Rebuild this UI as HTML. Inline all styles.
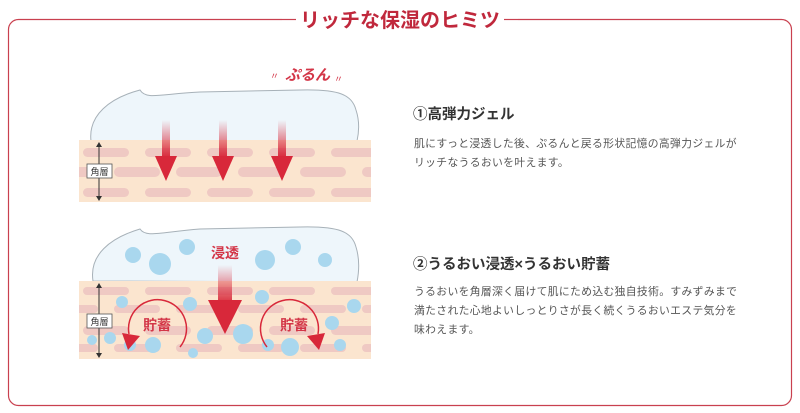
<!DOCTYPE html>
<html><head><meta charset="utf-8">
<style>
html,body{margin:0;padding:0;background:#fff;width:800px;height:413px;overflow:hidden}
svg{display:block}
text{font-family:"Liberation Sans","Noto Sans CJK JP",sans-serif}
</style></head><body>
<svg width="800" height="413" viewBox="0 0 800 413" xmlns="http://www.w3.org/2000/svg">
<defs>
<linearGradient id="ar" x1="0" y1="0" x2="0" y2="1">
<stop offset="0" stop-color="#d8283a" stop-opacity="0"/>
<stop offset="1" stop-color="#d8283a"/>
</linearGradient>
<pattern id="p1" x="79" y="0" width="62" height="413" patternUnits="userSpaceOnUse">
<rect x="4" y="148" width="46" height="9" rx="4.5" fill="#efc9c3"/>
<rect x="35" y="167" width="46" height="10" rx="5" fill="#efc9c3"/>
<rect x="-27" y="167" width="46" height="10" rx="5" fill="#efc9c3"/>
<rect x="4" y="188" width="46" height="9" rx="4.5" fill="#efc9c3"/>
</pattern>
<pattern id="p2" x="79" y="0" width="62" height="413" patternUnits="userSpaceOnUse">
<rect x="4" y="287" width="46" height="8" rx="4" fill="#efc9c3"/>
<rect x="35" y="305" width="46" height="8" rx="4" fill="#efc9c3"/>
<rect x="-27" y="305" width="46" height="8" rx="4" fill="#efc9c3"/>
<rect x="4" y="326" width="46" height="9" rx="4.5" fill="#efc9c3"/>
<rect x="35" y="344" width="46" height="8" rx="4" fill="#efc9c3"/>
<rect x="-27" y="344" width="46" height="8" rx="4" fill="#efc9c3"/>
</pattern>
</defs>
<rect x="8.5" y="19.5" width="783" height="386" rx="10" fill="none" stroke="#c9404f" stroke-width="1.2"/>
<rect x="282" y="10" width="236" height="20" fill="#fff"/>
<line x1="282" y1="19.5" x2="296" y2="19.5" stroke="#c9404f" stroke-width="1.2"/>
<line x1="504" y1="19.5" x2="518" y2="19.5" stroke="#c9404f" stroke-width="1.2"/>
<text x="400" y="27" text-anchor="middle" font-size="20" font-weight="bold" fill="#c0283c">リッチな保湿のヒミツ</text>

<path d="M91,141 C88,115 110,98 140,90 C146,100 160,94 200,92 L300,90 C340,89 352,95 356,110 C360,122 359,132 357,141 Z" fill="#eef6fb" stroke="#a7b1b8" stroke-width="1"/>
<rect x="79" y="140" width="292" height="62" fill="#fbe5cf"/>
<rect x="79" y="140" width="292" height="62" fill="url(#p1)"/>
<g>
<rect x="162" y="120" width="8" height="38" fill="url(#ar)"/>
<polygon points="155,156 177,156 166,181" fill="#d8283a"/>
<rect x="219" y="120" width="8" height="38" fill="url(#ar)"/>
<polygon points="212,156 234,156 223,181" fill="#d8283a"/>
<rect x="278" y="120" width="8" height="38" fill="url(#ar)"/>
<polygon points="271,156 293,156 282,181" fill="#d8283a"/>
</g>
<text x="285" y="80" font-size="15" font-weight="bold" font-style="italic" fill="#d33547">ぷるん</text>
<text x="270" y="79" font-size="9" fill="#d33547">〃</text>
<text x="334" y="82" font-size="9" fill="#d33547">〃</text>
<line x1="99" y1="146" x2="99" y2="197" stroke="#333" stroke-width="1"/>
<polygon points="96,147 102,147 99,142" fill="#333"/>
<polygon points="96,196 102,196 99,201" fill="#333"/>
<rect x="87" y="164" width="25" height="14" fill="#fff" stroke="#555" stroke-width="0.8"/>
<text x="99.5" y="175" text-anchor="middle" font-size="9" fill="#333">角層</text>

<path d="M93,281 C89,255 110,238 140,229 C146,238 160,232 200,229 L300,227 C340,226 352,232 356,247 C360,260 359,272 357,282 Z" fill="#eef6fb" stroke="#a7b1b8" stroke-width="1"/>
<rect x="79" y="281" width="292" height="78" fill="#fbe5cf"/>
<rect x="79" y="281" width="292" height="78" fill="url(#p2)"/>
<g fill="#a9d7ee">
<circle cx="133" cy="255" r="8"/><circle cx="160" cy="264" r="11"/><circle cx="187" cy="247" r="8"/>
<circle cx="265" cy="260" r="10"/><circle cx="293" cy="247" r="8"/><circle cx="325" cy="260" r="7"/>
<circle cx="122" cy="302" r="6"/><circle cx="190" cy="304" r="7"/><circle cx="262" cy="297" r="7"/><circle cx="354" cy="306" r="7"/>
<circle cx="110" cy="338" r="6"/><circle cx="130" cy="345" r="6"/><circle cx="153" cy="345" r="8"/><circle cx="205" cy="336" r="8"/>
<circle cx="243" cy="334" r="10"/><circle cx="268" cy="345" r="6"/><circle cx="290" cy="347" r="9"/><circle cx="332" cy="323" r="7"/><circle cx="340" cy="345" r="6"/><circle cx="92" cy="340" r="5"/><circle cx="193" cy="353" r="5"/>
</g>
<text x="225" y="258" text-anchor="middle" font-size="14" font-weight="bold" fill="#d33547">浸透</text>
<rect x="218" y="265" width="14" height="40" fill="url(#ar)"/>
<polygon points="208,300 242,300 225,334" fill="#d8283a"/>
<path d="M180,347 A29,29 0 1 0 129,334" fill="none" stroke="#d8283a" stroke-width="1.5"/>
<polygon points="122,333 140,336 128,350" fill="#d8283a"/>
<path d="M267,347 A29,29 0 1 1 318,334" fill="none" stroke="#d8283a" stroke-width="1.5"/>
<polygon points="325,333 307,336 319,350" fill="#d8283a"/>
<text x="157" y="330" text-anchor="middle" font-size="14" font-weight="bold" fill="#d33547">貯蓄</text>
<text x="294" y="330" text-anchor="middle" font-size="14" font-weight="bold" fill="#d33547">貯蓄</text>
<line x1="99" y1="287" x2="99" y2="354" stroke="#333" stroke-width="1"/>
<polygon points="96,288 102,288 99,283" fill="#333"/>
<polygon points="96,353 102,353 99,358" fill="#333"/>
<rect x="87" y="314" width="25" height="14" fill="#fff" stroke="#555" stroke-width="0.8"/>
<text x="99.5" y="325" text-anchor="middle" font-size="9" fill="#333">角層</text>

<text x="413" y="119" font-size="14.5" font-weight="bold" fill="#333">①高弾力ジェル</text>
<g font-size="10.8" fill="#555" letter-spacing="0.35">
<text x="414" y="147">肌にすっと浸透した後、ぷるんと戻る形状記憶の高弾力ジェルが</text>
<text x="414" y="166">リッチなうるおいを叶えます。</text>
</g>
<text x="413" y="269" font-size="14.5" font-weight="bold" fill="#333">②うるおい浸透×うるおい貯蓄</text>
<g font-size="10.8" fill="#555" letter-spacing="0.35">
<text x="414" y="295">うるおいを角層深く届けて肌にため込む独自技術。すみずみまで</text>
<text x="414" y="314">満たされた心地よいしっとりさが長く続くうるおいエステ気分を</text>
<text x="414" y="333">味わえます。</text>
</g>
</svg>
</body></html>
